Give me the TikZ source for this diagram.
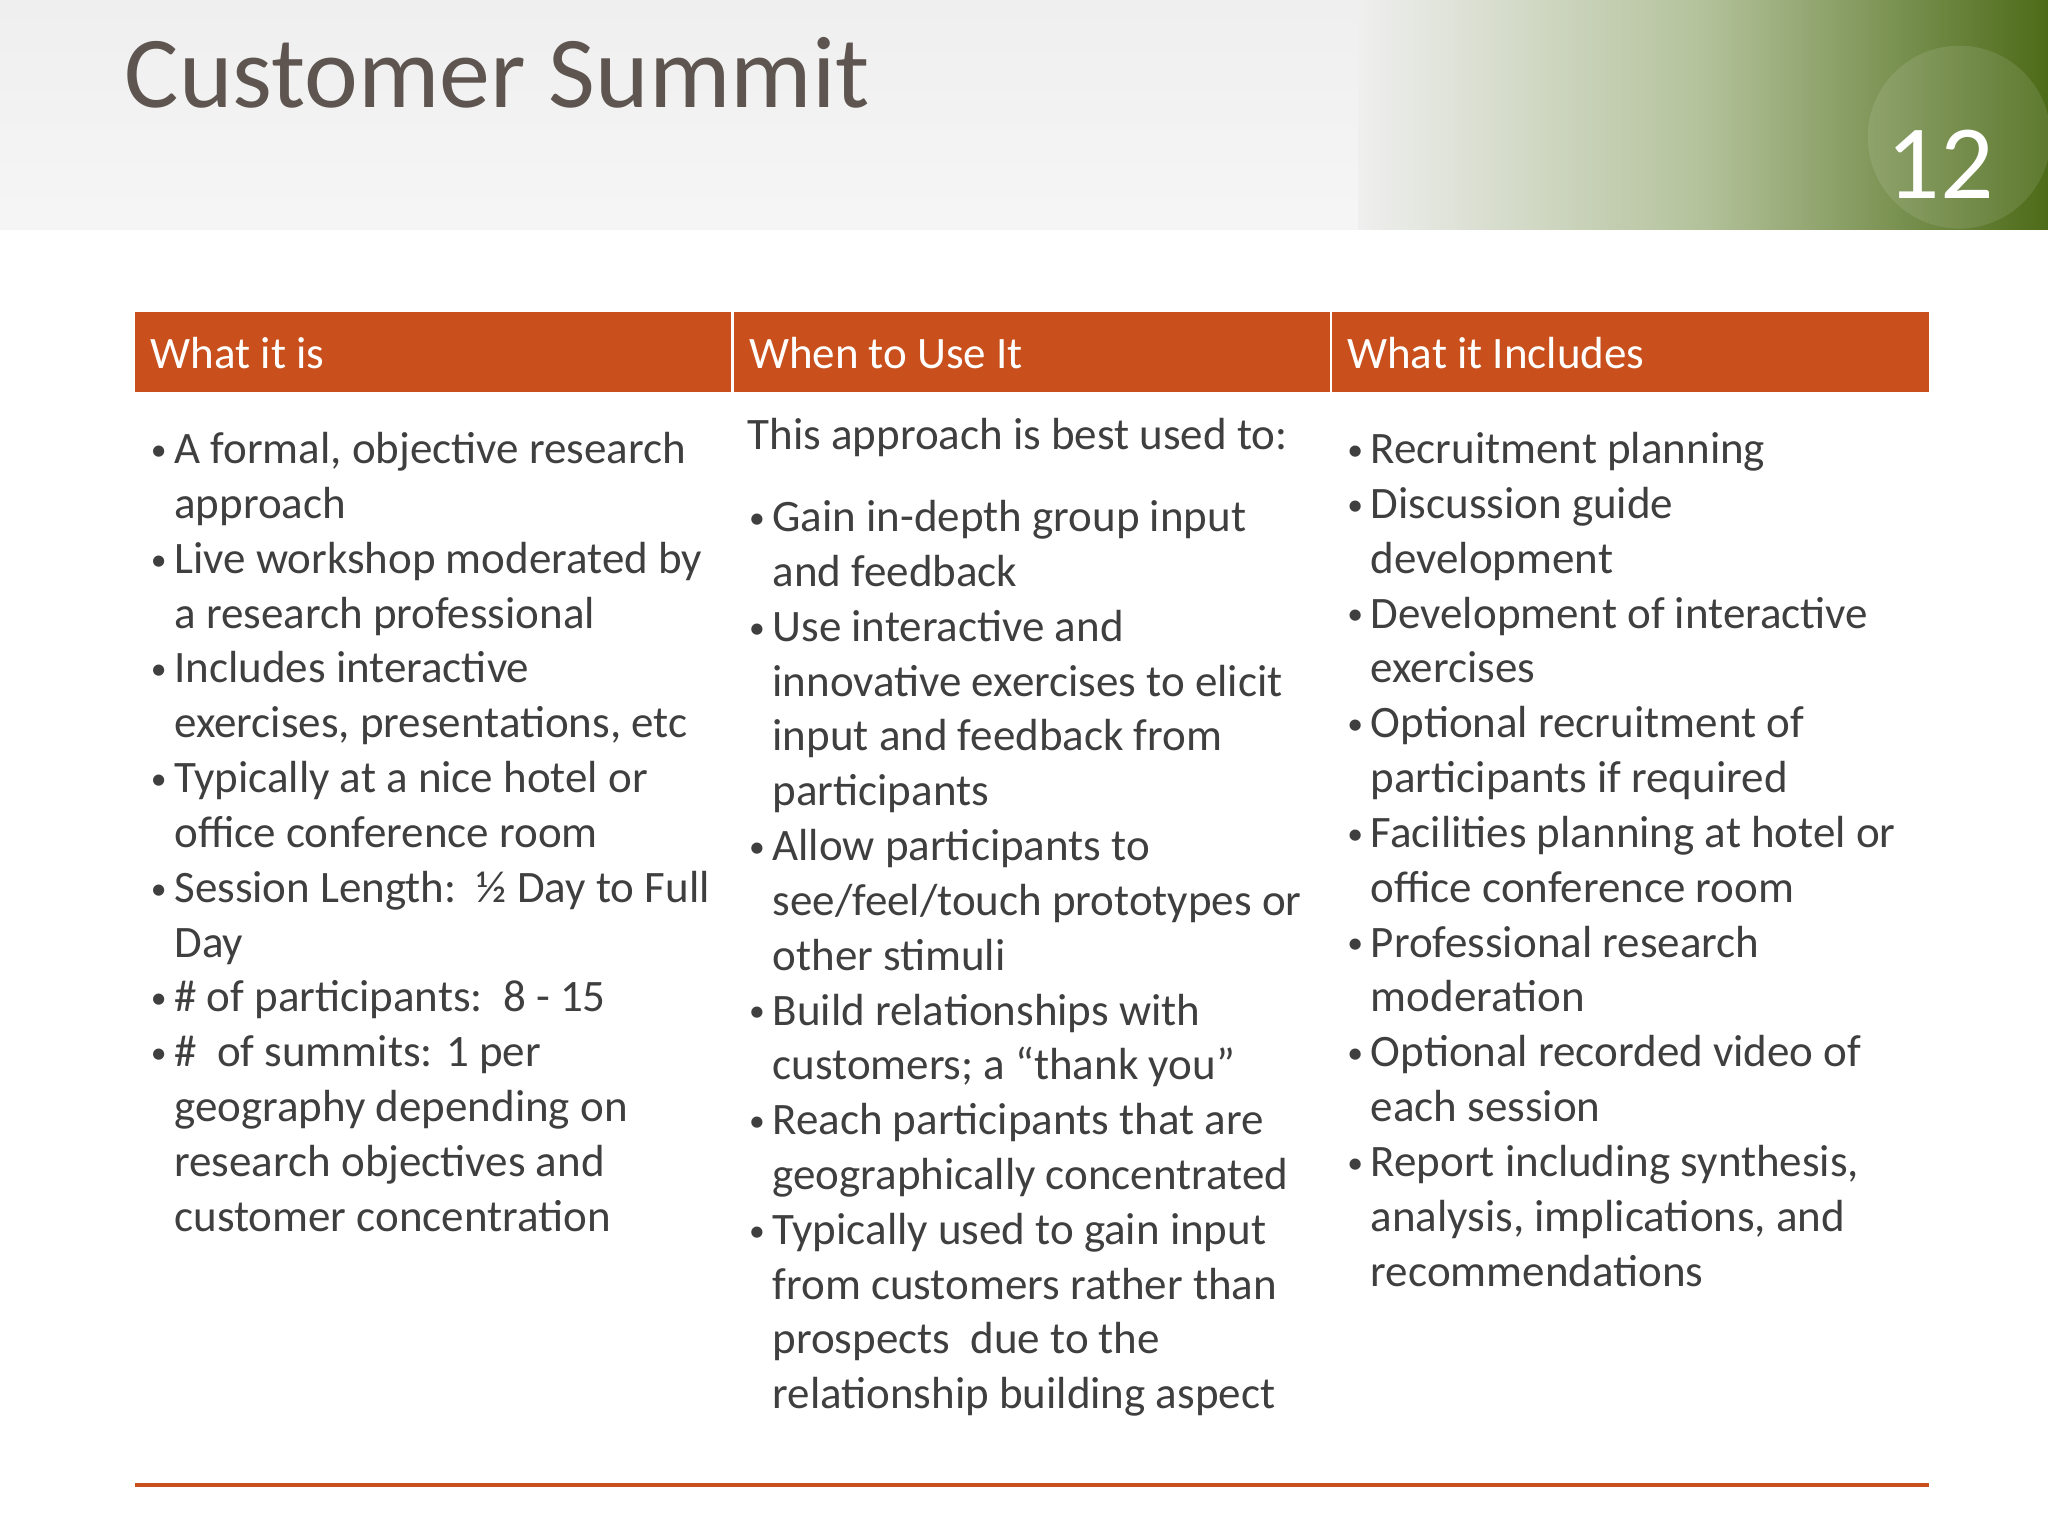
\documentclass[tikz,border=0pt]{standalone}
\usepackage{fontspec}
\setmainfont{Carlito}
\definecolor{orng}{HTML}{C9501C}
\definecolor{ttl}{HTML}{5E5550}
\definecolor{txt}{HTML}{3F3F3F}
\definecolor{hdr}{HTML}{EFEFEF}
\definecolor{grn}{HTML}{5A7E1C}
\tikzset{
  hd/.style={anchor=west,text=white,font=\fontsize{12.8pt}{15.6pt}\selectfont,inner sep=0},
  col/.style={anchor=base west,text=txt,font=\fontsize{12.8pt}{15.6pt}\selectfont,inner sep=0}
}
\newcommand{\bl}{\raisebox{0.15ex}{\fontsize{9pt}{10pt}\selectfont\textbullet}}
\begin{document}
\begin{tikzpicture}[x=0.013061cm,y=-0.013061cm]
\useasboundingbox (0,0) rectangle (1568,1176);
\fill[white] (0,0) rectangle (1568,1176);
\shade[top color=hdr,bottom color=hdr!60!white] (0,0) rectangle (1568,176);
\shade[left color=hdr,right color=grn!85!black,middle color=grn!40!hdr] (1040,0) rectangle (1568,176);
\fill[white,opacity=0.10] (1500,105) circle (70);
\node[anchor=base west,text=ttl,font=\fontsize{29pt}{34pt}\selectfont,inner sep=0] (title) at (95,82) {Customer Summit};
\node[anchor=base east,text=white,font=\fontsize{30pt}{34pt}\selectfont,inner sep=0] (num) at (1527,152) {12};
\fill[orng] (103,239) rectangle (560,300);
\fill[orng] (562,239) rectangle (1018,300);
\fill[orng] (1020,239) rectangle (1477,300);
\node[hd] (h1) at (115,270) {What it is};
\node[hd] (h2) at (573,270) {When to Use It};
\node[hd] (h3) at (1031,270) {What it Includes};
\node[col] (c1) at (115,355) {\begin{tabular}[t]{@{}p{0.235cm}@{}l@{}}
\bl & A formal, objective research\\
 & approach\\
\bl & Live workshop moderated by\\
 & a research professional\\
\bl & Includes interactive\\
 & exercises, presentations, etc\\
\bl & Typically at a nice hotel or\\
 & office conference room\\
\bl & Session Length:\ \ ½ Day to Full\\
 & Day\\
\bl & \# of participants:\ \ 8 - 15\\
\bl & \#\ \ of summits: 1 per\\
 & geography depending on\\
 & research objectives and\\
 & customer concentration
\end{tabular}};
\node[col] (c2a) at (572,344) {This approach is best used to:};
\node[col] (c2) at (573,407) {\begin{tabular}[t]{@{}p{0.235cm}@{}l@{}}
\bl & Gain in-depth group input\\
 & and feedback\\
\bl & Use interactive and\\
 & innovative exercises to elicit\\
 & input and feedback from\\
 & participants\\
\bl & Allow participants to\\
 & see/feel/touch prototypes or\\
 & other stimuli\\
\bl & Build relationships with\\
 & customers; a “thank you”\\
\bl & Reach participants that are\\
 & geographically concentrated\\
\bl & Typically used to gain input\\
 & from customers rather than\\
 & prospects\ \ due to the\\
 & relationship building aspect
\end{tabular}};
\node[col] (c3) at (1031,355) {\begin{tabular}[t]{@{}p{0.235cm}@{}l@{}}
\bl & Recruitment planning\\
\bl & Discussion guide\\
 & development\\
\bl & Development of interactive\\
 & exercises\\
\bl & Optional recruitment of\\
 & participants if required\\
\bl & Facilities planning at hotel or\\
 & office conference room\\
\bl & Professional research\\
 & moderation\\
\bl & Optional recorded video of\\
 & each session\\
\bl & Report including synthesis,\\
 & analysis, implications, and\\
 & recommendations
\end{tabular}};
\draw[orng,line width=1pt] (103,1137) -- (1477,1137);
\end{tikzpicture}
\end{document}
